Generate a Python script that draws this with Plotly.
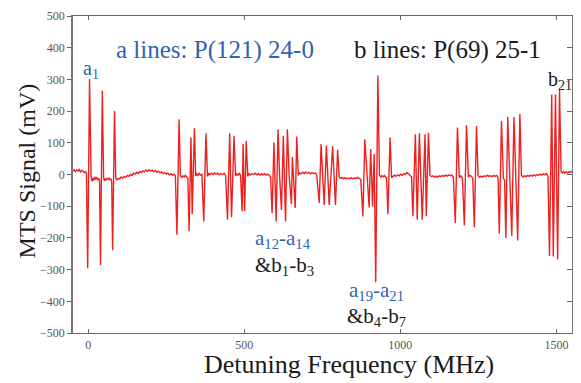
import plotly.graph_objects as go

# ---- data ----
base_x = [-49, -45, -41, -37, -33, -29, -25, -21, -17, -13, -9, -6,
          9, 12, 15, 18, 21, 24, 27, 30, 33, 36,
          49, 52, 55, 58, 61, 64, 67, 70, 73, 75,
          88, 92, 96, 100, 105, 110, 115, 120, 125, 130, 135, 140, 145, 150, 155, 160, 165, 170,
          175, 180, 185, 190, 195, 200, 205, 210, 215, 220, 225, 230, 235, 240, 245, 250, 255,
          260, 265, 270, 275, 279,
          295, 299, 303, 307, 311, 315, 319,
          344, 348, 352, 356, 360, 364,
          382, 386, 390, 395, 400, 405, 410, 415, 420, 425, 430, 435, 440,
          472, 476, 480, 484, 488,
          511, 515, 520, 525, 530, 535, 540, 545, 550, 555, 560, 565, 570, 575, 580, 584,
          613, 644,
          673, 677, 682, 687, 692, 697, 702, 707, 712, 717, 722, 727, 732,
          751,
          804, 808, 813, 818, 823, 828, 833, 838, 843, 848, 853, 858, 863, 868, 873,
          933, 937, 941, 945, 949, 953, 956,
          972, 976, 981, 986, 991, 996, 1001, 1006, 1011, 1016, 1021, 1026, 1031, 1036,
          1095, 1100, 1105, 1110, 1115, 1120, 1125, 1130, 1135, 1140, 1145, 1150, 1155, 1160,
          1165, 1170,
          1189, 1194, 1199,
          1218, 1223, 1228, 1232,
          1249, 1254, 1259, 1264, 1269, 1274, 1279, 1284, 1289, 1294, 1299, 1304, 1309, 1313,
          1330, 1334, 1350, 1370,
          1388, 1393, 1398, 1403, 1408, 1413, 1418, 1423, 1428, 1433, 1438, 1443, 1448, 1453,
          1458, 1463, 1468, 1473,
          1515, 1519, 1523, 1527, 1531, 1535, 1539, 1543, 1547, 1551]
base_y = [12, 15, 9, 14, 11, 16, 8, 13, 10, 6, 9, 4,
          -5, -22, -12, -18, -8, -14, -10, -16, -12, -20,
          -10, -20, -14, -17, -12, -15, -11, -18, -14, -22,
          -10, -18, -12, -14, -8, -12, -6, -9, -3, -6, 0, -3, 4, 1, 7, 3, 9, 6,
          11, 8, 14, 10, 15, 11, 13, 9, 12, 7, 10, 5, 8, 3, 6, 1, 4,
          -1, 2, -2, 1, -4,
          -2, -10, -4, -8, -3, -9, -12,
          -5, 2, -3, 3, -2, 0,
          -6, 3, -1, 4, 0, 5, 1, 4, -1, 3, 0, 4, -3,
          -5, 2, -2, 3, -4,
          -6, 2, -2, 3, 0, 4, -1, 3, -2, 2, -1, 3, -2, 1, -3, -8,
          -5, -10,
          -3, 5, 2, 7, 3, 8, 4, 7, 2, 6, 3, 5, -2,
          -8,
          -8, -12, -9, -13, -10, -14, -11, -13, -10, -14, -11, -12, -9, -13, -15,
          -2, -8, -4, -7, -3, -8, -12,
          -10, -5, -2, -6, -1, -4, 1, -3, 2, 0, 6, 2, -2, -8,
          -3, -7, -4, -8, -5, -9, -4, -7, -3, -6, -2, -5, -1, -4,
          -2, -9,
          -10, -4, -12,
          -8, -3, -6, -12,
          -4, -9, -5, -8, -4, -7, -2, -6, -4, -7, -3, -6, -3, -10,
          -12, -18, -15, -12,
          -2, -8, -4, -7, -3, -6, -2, -5, -1, -4, 0, -3, 1, -2,
          2, -1, 3, -5,
          10, 5, 9, 4, 8, 5, 9, 6, 10, 7]

trough_x = [-2, 39, 78, 284, 323, 333, 370, 446, 459, 493, 501, 589, 602, 619, 632, 651, 663,
            740, 756, 772, 792, 880, 900, 911, 921, 960, 1040, 1054, 1070, 1083,
            1176, 1205, 1237, 1317, 1338, 1357, 1376, 1478, 1490, 1504]
trough_y = [-296, -286, -239, -190, -179, -125, -148, -143, -135, -117, -115, -122, -148, -112, -148,
            -93, -106, -90, -96, -96, -96, -132, -104, -101, -340, -125, -132, -143, -143, -132,
            -153, -161, -166, -186, -200, -193, -208, -257, -259, -267]
peak_x = [4, 45, 84, 291, 329, 340, 377, 453, 467, 496, 506, 595, 608, 625, 638, 654, 668,
          746, 763, 783, 799, 886, 905, 916, 928, 967, 1048, 1061, 1079, 1090,
          1183, 1212, 1244, 1324, 1344, 1364, 1383, 1485, 1497, 1510]
peak_y = [301, 265, 200, 174, 117, 146, 129, 130, 122, 97, 106, 101, 143, 122, 143,
          55, 120, 96, 91, 89, 78, 111, 80, 65, 312, 117, 127, 130, 127, 132,
          148, 155, 153, 169, 182, 181, 191, 252, 252, 267]

x_ticks = [0, 500, 1000, 1500]
y_ticks = [-500, -400, -300, -200, -100, 0, 100, 200, 300, 400, 500]

# merge baseline and line features into one trace, ordered by frequency
pts = sorted(list(zip(base_x, base_y)) + list(zip(trough_x, trough_y)) + list(zip(peak_x, peak_y)))
sig_x = [p[0] for p in pts]
sig_y = [p[1] for p in pts]

SERIF = "Liberation Serif"
BLUE = "#2f62b0"
BLACK = "#1a1a1a"

fig = go.Figure()
fig.add_trace(go.Scatter(x=sig_x, y=sig_y, mode="lines",
                         line=dict(color="#ee2020", width=1.4), showlegend=False))
fig.add_trace(go.Scatter(x=[], y=[], yaxis="y2", showlegend=False))

fig.update_layout(
    width=581, height=383,
    margin=dict(l=73, r=9, t=12, b=50),
    paper_bgcolor="white", plot_bgcolor="white",
    font=dict(family=SERIF, color="#555555", size=11),
    xaxis=dict(range=[-49, 1550], tickvals=x_ticks, ticks="inside", ticklen=4,
               tickcolor="#666", showline=True, linecolor="#666", linewidth=1.2,
               mirror="ticks", showgrid=False, zeroline=False,
               tickfont=dict(family=SERIF, size=12, color="#555")),
    yaxis=dict(range=[-500, 500], tickvals=y_ticks, ticks="outside", ticklen=4,
               tickcolor="#666", showline=True, linecolor="#777", linewidth=1.5,
               showgrid=False, zeroline=False,
               tickfont=dict(family=SERIF, size=12, color="#555")),
    yaxis2=dict(range=[-500, 500], tickvals=y_ticks, overlaying="y", side="right",
                ticks="inside", ticklen=5, tickcolor="#666", showline=True,
                linecolor="#777", linewidth=1.2, showticklabels=False,
                showgrid=False, zeroline=False, anchor="x"),
)

ann = [
    dict(x=407, y=394, text="a lines: P(121) 24-0", color=BLUE, size=25),
    dict(x=1150, y=394, text="b lines: P(69) 25-1", color=BLACK, size=25),
    dict(x=10, y=332, text="a<sub>1</sub>", color=BLUE, size=20),
    dict(x=1510, y=295, text="b<sub>21</sub>", color=BLACK, size=20),
    dict(x=625, y=-202, text="a<sub>12</sub>-a<sub>14</sub>", color=BLUE, size=21),
    dict(x=628, y=-288, text="&amp;b<sub>1</sub>-b<sub>3</sub>", color=BLACK, size=21),
    dict(x=923, y=-368, text="a<sub>19</sub>-a<sub>21</sub>", color=BLUE, size=21),
    dict(x=923, y=-448, text="&amp;b<sub>4</sub>-b<sub>7</sub>", color=BLACK, size=21),
]
for a in ann:
    fig.add_annotation(x=a["x"], y=a["y"], xref="x", yref="y", text=a["text"],
                       showarrow=False, font=dict(family=SERIF, size=a["size"], color=a["color"]))

fig.add_annotation(x=0.553, y=-0.10, xref="paper", yref="paper", text="Detuning Frequency (MHz)",
                   showarrow=False, yanchor="middle",
                   font=dict(family=SERIF, size=26, color=BLACK))
fig.add_annotation(x=-0.092, y=0.51, xref="paper", yref="paper", text="MTS Signal (mV)",
                   showarrow=False, textangle=-90, xanchor="center", yanchor="middle",
                   font=dict(family=SERIF, size=24, color=BLACK))

fig.write_html("out.html")
